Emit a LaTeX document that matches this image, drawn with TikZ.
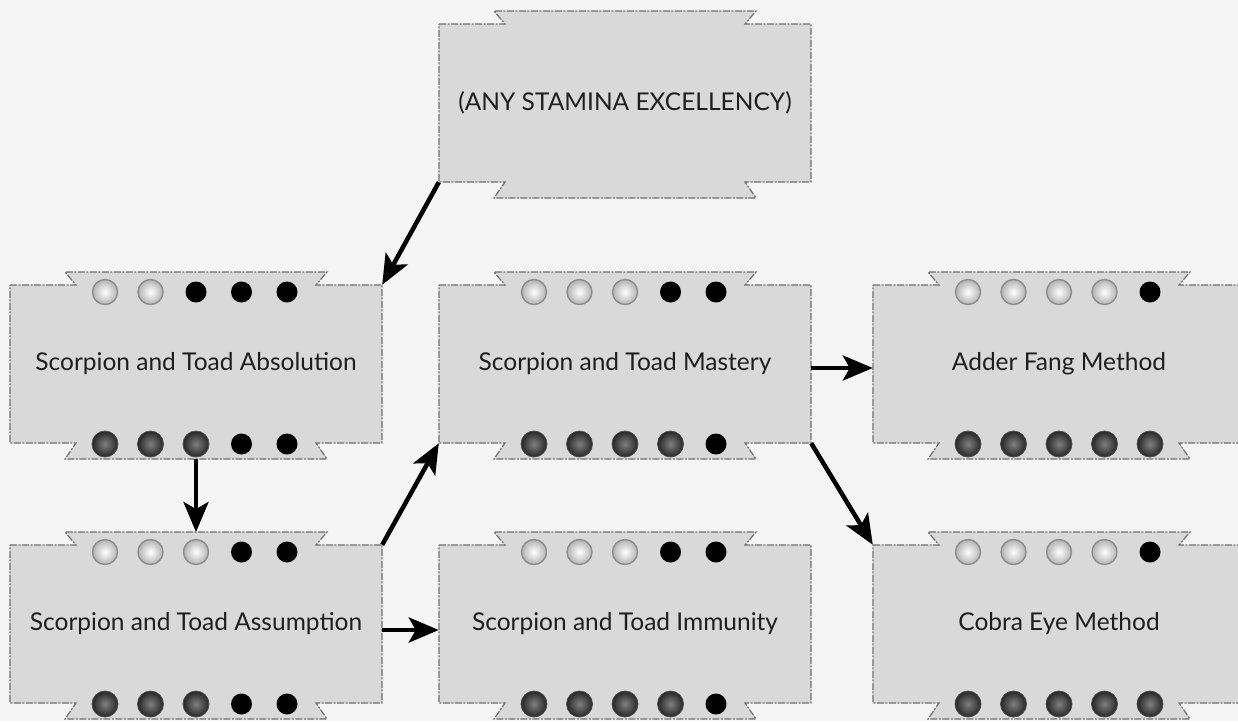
\documentclass[tikz,border=0pt]{standalone}
\usepackage{fontspec}
\setmainfont{Lato}
\usetikzlibrary{arrows.meta,calc}
\definecolor{bg}{HTML}{F5F5F5}
\definecolor{boxfill}{HTML}{D9D9D9}
\definecolor{boxline}{HTML}{6E6E6E}
\definecolor{txt}{HTML}{1E1E1E}
\tikzset{
  skill/.style={minimum width=372pt, minimum height=158pt, inner sep=0pt,
    font=\fontsize{24.5}{28}\selectfont, text=txt},
  outline/.style={fill=boxfill, draw=boxline, line width=1.2pt,
    dash pattern=on 7pt off 1.5pt on 2pt off 1.5pt},
  link/.style={line width=4.5pt, -{Stealth[length=30pt,width=25pt,inset=7pt]}},
  dotL/.style={circle, minimum size=25pt, inner sep=0pt, draw=black!45,
    line width=1.4pt, shading=radial, inner color=white, outer color=black!30},
  dotD/.style={circle, minimum size=26pt, inner sep=0pt, draw=black!70,
    line width=0.8pt, shading=radial, inner color=black!50, outer color=black!85},
  dotB/.style={circle, minimum size=21pt, inner sep=0pt, fill=black},
}
\newcommand\skillbox[4]{%
  \path[outline] (#2-186,#3-79) -- (#2-120,#3-79) -- (#2-131,#3-92)
    -- (#2+131,#3-92) -- (#2+120,#3-79) -- (#2+186,#3-79)
    -- (#2+186,#3+79) -- (#2+120,#3+79) -- (#2+131,#3+95)
    -- (#2-131,#3+95) -- (#2-120,#3+79) -- (#2-186,#3+79) -- cycle;
  \node[skill] (#1) at (#2,#3) {#4};
  \coordinate (#1-tt) at (#2,#3-92);
  \coordinate (#1-bt) at (#2,#3+95);
}
\newcommand\dotrows[5]{%
  \foreach \t [count=\i] in {#4} {\node[dot\t] (#1-u\i) at ({#2+(\i-3)*45.5},#3-72) {};}
  \foreach \t [count=\i] in {#5} {\node[dot\t] (#1-d\i) at ({#2+(\i-3)*45.5},#3+80) {};}
}
\begin{document}
\begin{tikzpicture}[x=1pt,y=-1pt]
\useasboundingbox (0,0) rectangle (1238,721);
\fill[bg] (0,0) rectangle (1238,721);
\clip (0,0) rectangle (1238,721);

\skillbox{top}{625}{103}{(ANY STAMINA EXCELLENCY)}

\skillbox{abs}{196}{364}{Scorpion and Toad Absolution}
\dotrows{abs}{196}{364}{L,L,B,B,B}{D,D,D,B,B}

\skillbox{mas}{625}{364}{Scorpion and Toad Mastery}
\dotrows{mas}{625}{364}{L,L,L,B,B}{D,D,D,D,B}

\skillbox{add}{1059}{364}{Adder Fang Method}
\dotrows{add}{1059}{364}{L,L,L,L,B}{D,D,D,D,D}

\skillbox{asm}{196}{624}{Scorpion and Toad Assumption}
\dotrows{asm}{196}{624}{L,L,L,B,B}{D,D,D,B,B}

\skillbox{imm}{625}{624}{Scorpion and Toad Immunity}
\dotrows{imm}{625}{624}{L,L,L,B,B}{D,D,D,D,B}

\skillbox{cob}{1059}{624}{Cobra Eye Method}
\dotrows{cob}{1059}{624}{L,L,L,L,B}{D,D,D,D,D}

\draw[link] (top.south west) -- (abs.north east);
\draw[link] (abs-bt) -- (asm-tt);
\draw[link] (asm.north east) -- (mas.south west);
\draw[link] ([yshift=-6pt]asm.east) -- ([yshift=-6pt]imm.west);
\draw[link] ([yshift=-4pt]mas.east) -- ([yshift=-4pt]add.west);
\draw[link] (mas.south east) -- (cob.north west);
\end{tikzpicture}
\end{document}
